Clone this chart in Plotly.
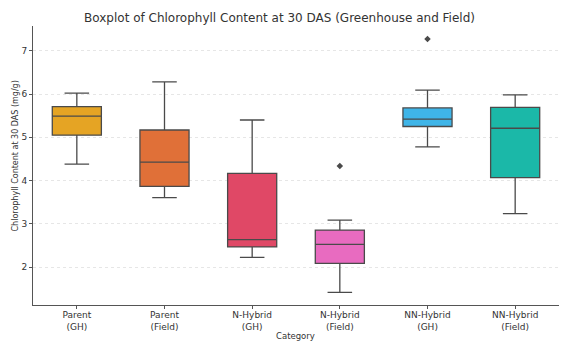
import plotly.graph_objects as go

# Chlorophyll content summary statistics (mg/g) per category
categories = ["Parent<br>(GH)", "Parent<br>(Field)", "N-Hybrid<br>(GH)",
              "N-Hybrid<br>(Field)", "NN-Hybrid<br>(GH)", "NN-Hybrid<br>(Field)"]
lower_whisker = [4.38, 3.61, 2.23, 1.42, 4.78, 3.24]
q1_values = [5.05, 3.87, 2.47, 2.09, 5.25, 4.07]
medians = [5.49, 4.43, 2.64, 2.53, 5.42, 5.21]
q3_values = [5.71, 5.17, 4.17, 2.86, 5.68, 5.69]
upper_whisker = [6.02, 6.28, 5.40, 3.09, 6.09, 5.98]
outlier_categories = ["N-Hybrid<br>(Field)", "NN-Hybrid<br>(GH)"]
outlier_values = [4.34, 7.27]

colors = ["#E5A424", "#E07038", "#E04866", "#E86BC0", "#3FB5E8", "#1BB8A8"]
edge = "#4a4a4a"
text_color = "#333333"
font_family = "DejaVu Sans, Arial, sans-serif"

W, H = 567, 341
ML, MR, MT, MB = 33, 8, 26, 36
PW, PH = W - ML - MR, H - MT - MB

fig = go.Figure()
for i, cat in enumerate(categories):
    fig.add_trace(go.Box(
        x=[cat],
        q1=[q1_values[i]], median=[medians[i]], q3=[q3_values[i]],
        lowerfence=[lower_whisker[i]], upperfence=[upper_whisker[i]],
        fillcolor=colors[i], line=dict(color=edge, width=1.3),
        whiskerwidth=0.5, boxpoints=False, showlegend=False,
        hoverinfo="y",
    ))

fig.add_trace(go.Scatter(
    x=outlier_categories, y=outlier_values, mode="markers",
    marker=dict(symbol="diamond", size=5, color=edge),
    showlegend=False,
))

fig.update_layout(
    width=W, height=H,
    margin=dict(l=ML, r=MR, t=MT, b=MB),
    paper_bgcolor="white", plot_bgcolor="white",
    boxgap=0.2,
    font=dict(family=font_family, color=text_color, size=9),
    title=dict(text="Boxplot of Chlorophyll Content at 30 DAS (Greenhouse and Field)",
               xref="container", x=279.5 / W, xanchor="center",
               yref="container", y=1 - 18 / H, yanchor="middle",
               font=dict(size=12, color=text_color)),
    annotations=[
        dict(text="Chlorophyll Content at 30 DAS (mg/g)", textangle=-90,
             xref="paper", yref="paper", x=(15 - ML) / PW,
             y=(H - MB - 156.5) / PH,
             xanchor="center", yanchor="middle", showarrow=False,
             font=dict(size=8, color=text_color)),
        dict(text="Category", xref="paper", yref="paper",
             x=(295.5 - ML) / PW, y=-(335.5 - (H - MB)) / PH,
             xanchor="center", yanchor="middle", showarrow=False,
             font=dict(size=8.5, color=text_color)),
    ],
)

fig.update_xaxes(
    categoryorder="array", categoryarray=categories,
    range=[-0.5, 5.5], automargin=False,
    showline=True, linecolor="#555555", linewidth=1,
    ticks="outside", ticklen=3, tickcolor="#555555",
    ticklabelstandoff=-2,
    showgrid=False, zeroline=False,
    tickfont=dict(size=9, color=text_color),
)
fig.update_yaxes(
    range=[1.13, 7.57], automargin=False,
    tickvals=[2, 3, 4, 5, 6, 7],
    showline=True, linecolor="#555555", linewidth=1,
    ticks="outside", ticklen=3, tickcolor="#555555",
    showgrid=True, gridcolor="#e6e6e6", griddash="dot", gridwidth=1,
    zeroline=False,
    tickfont=dict(size=9, color=text_color),
)

fig.write_html("out.html")
